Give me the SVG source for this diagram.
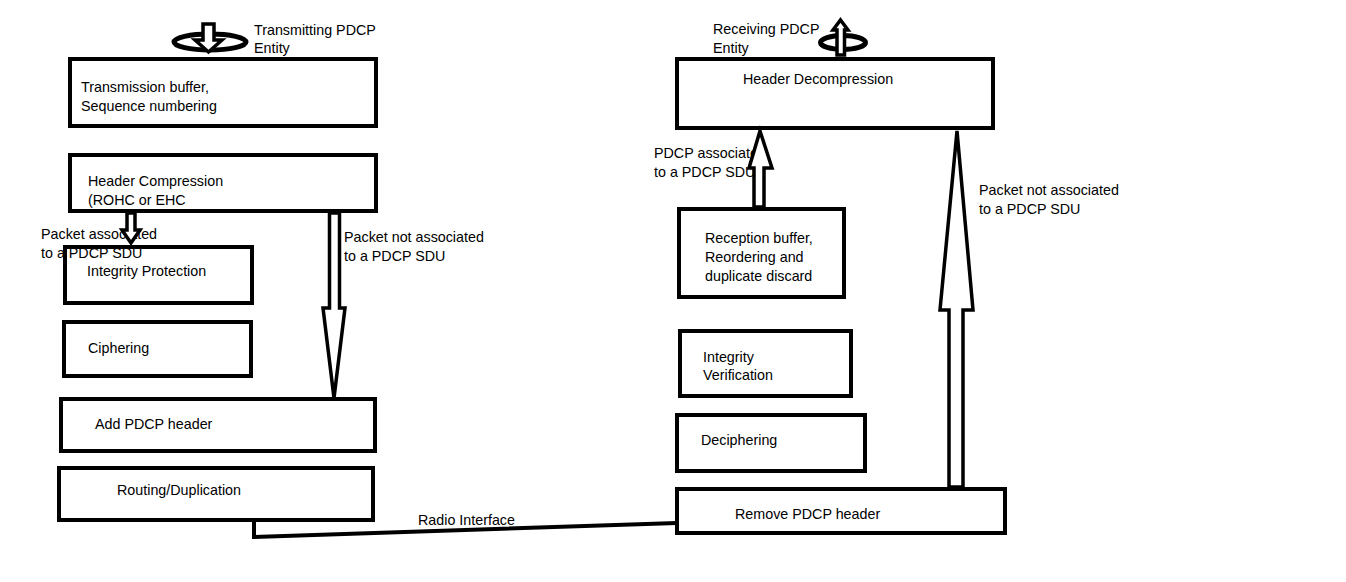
<svg xmlns="http://www.w3.org/2000/svg" width="1346" height="582" viewBox="0 0 1346 582">
<style>
.box{fill:#fff;stroke:#000;stroke-width:4}
.arr{fill:#fff;stroke:#000;stroke-width:3.5;stroke-linejoin:miter}
.ell{fill:none;stroke:#000;stroke-width:5}
.ln{fill:none;stroke:#000;stroke-width:4}
text{font-family:"Liberation Sans",Arial,sans-serif;font-size:14.3px;fill:#000}
</style>
<rect width="1346" height="582" fill="#fff"/>
<g id="tx-entity">
<ellipse class="ell" cx="210" cy="42" rx="36" ry="8"/>
<path class="arr" d="M203,24 H214 V40 H222 L208.5,52 L195,40 H203 Z"/>
<text x="254" y="35">Transmitting PDCP</text>
<text x="254" y="53">Entity</text>
</g>
<g id="rx-entity">
<ellipse class="ell" cx="843" cy="42.5" rx="22.5" ry="7"/>
<path class="arr" d="M840.5,20 L848,30 H844.5 V55 H837 V30 H833 Z"/>
<text x="713" y="34">Receiving PDCP</text>
<text x="713" y="53">Entity</text>
</g>
<g id="tx-buffer">
<rect class="box" x="70" y="59" width="306" height="67"/>
<text x="81" y="92">Transmission buffer,</text>
<text x="81" y="111">Sequence numbering</text>
</g>
<g id="header-compression">
<rect class="box" x="70" y="155" width="306" height="56"/>
<text x="88" y="186">Header Compression</text>
<text x="88" y="205">(ROHC or EHC</text>
</g>
<g id="integrity-protection">
<rect class="box" x="65" y="247" width="187" height="56"/>
<text x="87" y="276">Integrity Protection</text>
</g>
<g id="ciphering">
<rect class="box" x="64" y="322" width="187" height="54"/>
<text x="88" y="353">Ciphering</text>
</g>
<g id="add-header">
<rect class="box" x="61" y="399" width="314" height="52"/>
<text x="95" y="429">Add PDCP header</text>
</g>
<g id="routing">
<rect class="box" x="59" y="468" width="314" height="52"/>
<text x="117" y="495">Routing/Duplication</text>
</g>
<g id="header-decompression">
<rect class="box" x="677" y="59" width="316" height="69"/>
<text x="743" y="84">Header Decompression</text>
</g>
<g id="reception-buffer">
<rect class="box" x="679" y="209" width="165" height="88"/>
<text x="705" y="243">Reception buffer,</text>
<text x="705" y="262">Reordering and</text>
<text x="705" y="281">duplicate discard</text>
</g>
<g id="integrity-verification">
<rect class="box" x="680" y="331" width="171" height="65"/>
<text x="703" y="362">Integrity</text>
<text x="703" y="380">Verification</text>
</g>
<g id="deciphering">
<rect class="box" x="677" y="415" width="188" height="56"/>
<text x="701" y="445">Deciphering</text>
</g>
<g id="remove-header">
<rect class="box" x="677" y="489" width="328" height="44"/>
<text x="735" y="519">Remove PDCP header</text>
</g>
<g id="connectors">
<text x="41" y="239">Packet associated</text>
<text x="41" y="258">to a PDCP SDU</text>
<text x="344" y="242">Packet not associated</text>
<text x="344" y="261">to a PDCP SDU</text>
<text x="654" y="158">PDCP associated</text>
<text x="654" y="177">to a PDCP SDU</text>
<text x="979" y="195">Packet not associated</text>
<text x="979" y="214">to a PDCP SDU</text>
<text x="418" y="525">Radio Interface</text>
<path class="arr" d="M127,213 H135 V230 H140 L131,243 L122,230 H127 Z"/>
<path class="arr" d="M329.5,213 H339.5 V308 H345 L334,398 L323,308 H329.5 Z"/>
<path class="arr" d="M760,131 L772,168 H764 V207 H754 V168 H749 Z"/>
<path class="arr" d="M957,131 L973,310 H963 V487 H949 V310 H940 Z"/>
<polyline class="ln" points="254,521 254,537 677,523"/>
</g>
</svg>
